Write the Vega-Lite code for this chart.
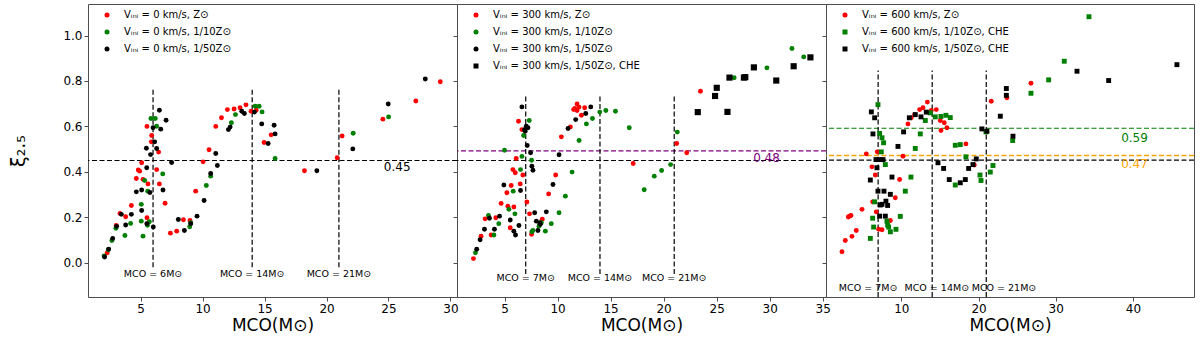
{
 "$schema": "https://vega.github.io/schema/vega-lite/v6.json",
 "padding": {"left": 9, "top": 3, "right": 3, "bottom": 2},
 "background": "white",
 "config": {
  "font": "DejaVu Sans",
  "view": {"stroke": "#4d4d4d", "strokeWidth": 1},
  "axis": {"grid": false, "domain": false, "ticks": true, "tickSize": 4, "tickColor": "#4d4d4d", "labelFontSize": 12, "labelColor": "#000", "labelPadding": 2, "titleFontSize": 17, "titleFontWeight": "normal", "titleColor": "#000", "labelFont": "DejaVu Sans", "titleFont": "DejaVu Sans"},
  "legend": {"orient": "none", "legendX": 14, "legendY": 6, "padding": 0, "labelFontSize": 10, "labelColor": "#000", "symbolSize": 25, "symbolStrokeWidth": 0, "rowPadding": 7, "labelOffset": 12, "title": null, "labelLimit": 400},
  "text": {"font": "DejaVu Sans"}
 },
 "datasets": {
  "one": [{}],
  "p1": [
   {"x":2.3,"y":0.044,"s":"a"},{"x":3.03,"y":0.164,"s":"a"},{"x":3.33,"y":0.217,"s":"a"},{"x":3.79,"y":0.202,"s":"a"},{"x":4.25,"y":0.252,"s":"a"},{"x":4.65,"y":0.371,"s":"a"},{"x":4.81,"y":0.408,"s":"a"},{"x":4.92,"y":0.403,"s":"a"},{"x":5.08,"y":0.44,"s":"a"},{"x":5.19,"y":0.367,"s":"a"},{"x":5.51,"y":0.6,"s":"a"},{"x":5.51,"y":0.198,"s":"a"},{"x":5.59,"y":0.347,"s":"a"},{"x":5.86,"y":0.532,"s":"a"},{"x":5.89,"y":0.56,"s":"a"},{"x":6.29,"y":0.41,"s":"a"},{"x":6.45,"y":0.487,"s":"a"},{"x":6.51,"y":0.347,"s":"a"},{"x":6.97,"y":0.262,"s":"a"},{"x":7.4,"y":0.13,"s":"a"},{"x":7.91,"y":0.139,"s":"a"},{"x":8.45,"y":0.189,"s":"a"},{"x":8.98,"y":0.186,"s":"a"},{"x":9.44,"y":0.315,"s":"a"},{"x":10.04,"y":0.444,"s":"a"},{"x":10.52,"y":0.497,"s":"a"},{"x":11.06,"y":0.6,"s":"a"},{"x":11.52,"y":0.638,"s":"a"},{"x":12.0,"y":0.674,"s":"a"},{"x":12.54,"y":0.677,"s":"a"},{"x":13.02,"y":0.682,"s":"a"},{"x":13.5,"y":0.695,"s":"a"},{"x":13.91,"y":0.667,"s":"a"},{"x":14.32,"y":0.671,"s":"a"},{"x":14.96,"y":0.529,"s":"a"},{"x":15.53,"y":0.563,"s":"a"},{"x":18.22,"y":0.405,"s":"a"},{"x":20.86,"y":0.462,"s":"a"},{"x":21.26,"y":0.558,"s":"a"},{"x":24.55,"y":0.632,"s":"a"},{"x":27.21,"y":0.712,"s":"a"},{"x":29.18,"y":0.797,"s":"a"},
   {"x":2.05,"y":0.03,"s":"b"},{"x":2.39,"y":0.057,"s":"b"},{"x":2.68,"y":0.098,"s":"b"},{"x":3.0,"y":0.152,"s":"b"},{"x":3.73,"y":0.12,"s":"b"},{"x":4.19,"y":0.173,"s":"b"},{"x":5.05,"y":0.257,"s":"b"},{"x":5.05,"y":0.183,"s":"b"},{"x":5.19,"y":0.117,"s":"b"},{"x":5.32,"y":0.362,"s":"b"},{"x":5.57,"y":0.315,"s":"b"},{"x":5.55,"y":0.165,"s":"b"},{"x":5.7,"y":0.18,"s":"b"},{"x":5.83,"y":0.635,"s":"b"},{"x":6.18,"y":0.635,"s":"b"},{"x":6.29,"y":0.601,"s":"b"},{"x":6.78,"y":0.391,"s":"b"},{"x":8.96,"y":0.158,"s":"b"},{"x":9.04,"y":0.176,"s":"b"},{"x":10.3,"y":0.34,"s":"b"},{"x":10.65,"y":0.381,"s":"b"},{"x":12.32,"y":0.616,"s":"b"},{"x":12.65,"y":0.652,"s":"b"},{"x":14.24,"y":0.689,"s":"b"},{"x":14.56,"y":0.689,"s":"b"},{"x":14.8,"y":0.664,"s":"b"},{"x":15.85,"y":0.459,"s":"b"},{"x":22.15,"y":0.57,"s":"b"},{"x":25.01,"y":0.642,"s":"b"},
   {"x":2.09,"y":0.025,"s":"c"},{"x":2.42,"y":0.06,"s":"c"},{"x":2.74,"y":0.107,"s":"c"},{"x":3.06,"y":0.16,"s":"c"},{"x":3.44,"y":0.213,"s":"c"},{"x":3.79,"y":0.166,"s":"c"},{"x":4.25,"y":0.213,"s":"c"},{"x":4.65,"y":0.312,"s":"c"},{"x":5.08,"y":0.32,"s":"c"},{"x":5.08,"y":0.23,"s":"c"},{"x":5.46,"y":0.504,"s":"c"},{"x":5.49,"y":0.418,"s":"c"},{"x":5.75,"y":0.309,"s":"c"},{"x":5.5,"y":0.172,"s":"c"},{"x":5.8,"y":0.476,"s":"c"},{"x":6.02,"y":0.157,"s":"c"},{"x":6.0,"y":0.594,"s":"c"},{"x":6.13,"y":0.532,"s":"c"},{"x":6.29,"y":0.503,"s":"c"},{"x":6.51,"y":0.671,"s":"c"},{"x":6.62,"y":0.588,"s":"c"},{"x":6.8,"y":0.32,"s":"c"},{"x":7.05,"y":0.627,"s":"c"},{"x":7.5,"y":0.441,"s":"c"},{"x":8.04,"y":0.19,"s":"c"},{"x":8.53,"y":0.142,"s":"c"},{"x":9.04,"y":0.172,"s":"c"},{"x":9.55,"y":0.205,"s":"c"},{"x":10.12,"y":0.274,"s":"c"},{"x":10.65,"y":0.393,"s":"c"},{"x":11.06,"y":0.481,"s":"c"},{"x":11.19,"y":0.428,"s":"c"},{"x":12.08,"y":0.586,"s":"c"},{"x":12.22,"y":0.597,"s":"c"},{"x":13.16,"y":0.667,"s":"c"},{"x":13.37,"y":0.657,"s":"c"},{"x":14.18,"y":0.663,"s":"c"},{"x":14.77,"y":0.611,"s":"c"},{"x":15.29,"y":0.525,"s":"c"},{"x":15.77,"y":0.605,"s":"c"},{"x":15.85,"y":0.567,"s":"c"},{"x":19.22,"y":0.405,"s":"c"},{"x":22.12,"y":0.501,"s":"c"},{"x":24.98,"y":0.699,"s":"c"},{"x":27.97,"y":0.809,"s":"c"}
  ],
  "p2": [
   {"x":2.07,"y":0.018,"s":"a"},{"x":2.79,"y":0.117,"s":"a"},{"x":3.17,"y":0.193,"s":"a"},{"x":3.74,"y":0.122,"s":"a"},{"x":4.18,"y":0.198,"s":"a"},{"x":4.68,"y":0.261,"s":"a"},{"x":5.22,"y":0.308,"s":"a"},{"x":5.32,"y":0.249,"s":"a"},{"x":5.54,"y":0.154,"s":"a"},{"x":5.63,"y":0.34,"s":"a"},{"x":5.79,"y":0.41,"s":"a"},{"x":6.01,"y":0.396,"s":"a"},{"x":5.88,"y":0.245,"s":"a"},{"x":6.1,"y":0.459,"s":"a"},{"x":6.32,"y":0.623,"s":"a"},{"x":6.48,"y":0.347,"s":"a"},{"x":6.64,"y":0.586,"s":"a"},{"x":6.73,"y":0.386,"s":"a"},{"x":7.11,"y":0.267,"s":"a"},{"x":7.36,"y":0.215,"s":"a"},{"x":7.55,"y":0.125,"s":"a"},{"x":8.56,"y":0.191,"s":"a"},{"x":9.16,"y":0.303,"s":"a"},{"x":9.82,"y":0.386,"s":"a"},{"x":10.36,"y":0.554,"s":"a"},{"x":11.21,"y":0.598,"s":"a"},{"x":11.52,"y":0.674,"s":"a"},{"x":11.62,"y":0.679,"s":"a"},{"x":11.84,"y":0.699,"s":"a"},{"x":12.03,"y":0.685,"s":"a"},{"x":11.84,"y":0.67,"s":"a"},{"x":12.25,"y":0.649,"s":"a"},{"x":12.56,"y":0.682,"s":"a"},{"x":17.13,"y":0.437,"s":"a"},{"x":21.23,"y":0.525,"s":"a"},{"x":22.18,"y":0.484,"s":"a"},{"x":23.47,"y":0.755,"s":"a"},
   {"x":2.26,"y":0.044,"s":"b"},{"x":3.49,"y":0.208,"s":"b"},{"x":4.0,"y":0.122,"s":"b"},{"x":4.46,"y":0.172,"s":"b"},{"x":5.0,"y":0.495,"s":"b"},{"x":5.41,"y":0.235,"s":"b"},{"x":5.82,"y":0.315,"s":"b"},{"x":5.98,"y":0.215,"s":"b"},{"x":6.51,"y":0.41,"s":"b"},{"x":6.64,"y":0.468,"s":"b"},{"x":6.8,"y":0.56,"s":"b"},{"x":7.33,"y":0.626,"s":"b"},{"x":7.55,"y":0.451,"s":"b"},{"x":7.58,"y":0.136,"s":"b"},{"x":7.68,"y":0.142,"s":"b"},{"x":8.25,"y":0.161,"s":"b"},{"x":8.47,"y":0.176,"s":"b"},{"x":8.85,"y":0.139,"s":"b"},{"x":9.41,"y":0.172,"s":"b"},{"x":10.14,"y":0.22,"s":"b"},{"x":10.74,"y":0.293,"s":"b"},{"x":11.37,"y":0.399,"s":"b"},{"x":12.03,"y":0.538,"s":"b"},{"x":12.72,"y":0.611,"s":"b"},{"x":13.29,"y":0.635,"s":"b"},{"x":13.98,"y":0.663,"s":"b"},{"x":14.55,"y":0.67,"s":"b"},{"x":15.46,"y":0.667,"s":"b"},{"x":16.76,"y":0.594,"s":"b"},{"x":18.17,"y":0.321,"s":"b"},{"x":19.12,"y":0.381,"s":"b"},{"x":19.81,"y":0.406,"s":"b"},{"x":20.66,"y":0.432,"s":"b"},{"x":21.29,"y":0.575,"s":"b"},{"x":26.65,"y":0.814,"s":"b"},{"x":29.74,"y":0.858,"s":"b"},{"x":32.1,"y":0.943,"s":"b"},{"x":33.21,"y":0.906,"s":"b"},
   {"x":2.38,"y":0.059,"s":"c"},{"x":2.7,"y":0.101,"s":"c"},{"x":3.11,"y":0.147,"s":"c"},{"x":3.58,"y":0.196,"s":"c"},{"x":4.05,"y":0.147,"s":"c"},{"x":4.53,"y":0.205,"s":"c"},{"x":4.94,"y":0.342,"s":"c"},{"x":5.54,"y":0.188,"s":"c"},{"x":5.88,"y":0.139,"s":"c"},{"x":6.04,"y":0.122,"s":"c"},{"x":6.36,"y":0.164,"s":"c"},{"x":6.51,"y":0.318,"s":"c"},{"x":6.64,"y":0.686,"s":"c"},{"x":6.89,"y":0.586,"s":"c"},{"x":7.05,"y":0.601,"s":"c"},{"x":7.21,"y":0.594,"s":"c"},{"x":6.95,"y":0.579,"s":"c"},{"x":7.14,"y":0.516,"s":"c"},{"x":7.46,"y":0.484,"s":"c"},{"x":7.58,"y":0.425,"s":"c"},{"x":7.68,"y":0.407,"s":"c"},{"x":7.84,"y":0.22,"s":"c"},{"x":8.0,"y":0.183,"s":"c"},{"x":8.15,"y":0.142,"s":"c"},{"x":8.31,"y":0.176,"s":"c"},{"x":8.37,"y":0.169,"s":"c"},{"x":8.94,"y":0.224,"s":"c"},{"x":9.57,"y":0.344,"s":"c"},{"x":10.14,"y":0.475,"s":"c"},{"x":10.99,"y":0.591,"s":"c"},{"x":11.71,"y":0.63,"s":"c"},{"x":12.66,"y":0.657,"s":"c"},{"x":13.13,"y":0.686,"s":"c"},
   {"x":23.22,"y":0.663,"s":"d"},{"x":24.85,"y":0.734,"s":"d"},{"x":25.01,"y":0.77,"s":"d"},{"x":26.02,"y":0.664,"s":"d"},{"x":26.21,"y":0.815,"s":"d"},{"x":27.57,"y":0.815,"s":"d"},{"x":27.7,"y":0.817,"s":"d"},{"x":28.51,"y":0.86,"s":"d"},{"x":30.62,"y":0.802,"s":"d"},{"x":32.26,"y":0.865,"s":"d"},{"x":33.84,"y":0.904,"s":"d"}
  ],
  "p3": [
   {"x":2.32,"y":0.048,"s":"a"},{"x":2.75,"y":0.098,"s":"a"},{"x":3.61,"y":0.116,"s":"a"},{"x":4.17,"y":0.142,"s":"a"},{"x":3.14,"y":0.201,"s":"a"},{"x":3.31,"y":0.205,"s":"a"},{"x":3.48,"y":0.208,"s":"a"},{"x":4.91,"y":0.235,"s":"a"},{"x":5.47,"y":0.479,"s":"a"},{"x":6.29,"y":0.268,"s":"a"},{"x":6.2,"y":0.422,"s":"a"},{"x":6.63,"y":0.386,"s":"a"},{"x":6.76,"y":0.224,"s":"a"},{"x":6.89,"y":0.488,"s":"a"},{"x":7.07,"y":0.147,"s":"a"},{"x":7.5,"y":0.145,"s":"a"},{"x":8.58,"y":0.186,"s":"a"},{"x":9.22,"y":0.286,"s":"a"},{"x":9.78,"y":0.366,"s":"a"},{"x":10.22,"y":0.469,"s":"a"},{"x":10.86,"y":0.611,"s":"a"},{"x":11.29,"y":0.638,"s":"a"},{"x":11.73,"y":0.652,"s":"a"},{"x":12.37,"y":0.674,"s":"a"},{"x":12.81,"y":0.682,"s":"a"},{"x":13.37,"y":0.707,"s":"a"},{"x":13.88,"y":0.67,"s":"a"},{"x":14.53,"y":0.674,"s":"a"},{"x":15.05,"y":0.626,"s":"a"},{"x":15.14,"y":0.582,"s":"a"},{"x":15.57,"y":0.616,"s":"a"},{"x":15.91,"y":0.594,"s":"a"},{"x":18.37,"y":0.523,"s":"a"},{"x":19.45,"y":0.43,"s":"a"},{"x":21.65,"y":0.711,"s":"a"},{"x":23.68,"y":0.726,"s":"a"},{"x":26.79,"y":0.79,"s":"a"},
   {"x":5.99,"y":0.107,"s":"b"},{"x":6.29,"y":0.196,"s":"b"},{"x":6.42,"y":0.157,"s":"b"},{"x":6.55,"y":0.268,"s":"b"},{"x":6.98,"y":0.696,"s":"b"},{"x":7.19,"y":0.569,"s":"b"},{"x":7.5,"y":0.55,"s":"b"},{"x":7.71,"y":0.528,"s":"b"},{"x":7.41,"y":0.488,"s":"b"},{"x":7.93,"y":0.432,"s":"b"},{"x":8.14,"y":0.183,"s":"b"},{"x":8.23,"y":0.166,"s":"b"},{"x":8.36,"y":0.157,"s":"b"},{"x":8.58,"y":0.136,"s":"b"},{"x":9.31,"y":0.147,"s":"b"},{"x":9.87,"y":0.204,"s":"b"},{"x":10.52,"y":0.315,"s":"b"},{"x":11.25,"y":0.377,"s":"b"},{"x":11.81,"y":0.503,"s":"b"},{"x":12.46,"y":0.567,"s":"b"},{"x":13.11,"y":0.626,"s":"b"},{"x":13.75,"y":0.66,"s":"b"},{"x":14.4,"y":0.642,"s":"b"},{"x":15.14,"y":0.644,"s":"b"},{"x":15.78,"y":0.649,"s":"b"},{"x":16.34,"y":0.639,"s":"b"},{"x":16.99,"y":0.342,"s":"b"},{"x":16.99,"y":0.517,"s":"b"},{"x":17.64,"y":0.52,"s":"b"},{"x":18.37,"y":0.466,"s":"b"},{"x":20.19,"y":0.386,"s":"b"},{"x":20.32,"y":0.362,"s":"b"},{"x":21.52,"y":0.399,"s":"b"},{"x":21.87,"y":0.428,"s":"b"},{"x":20.96,"y":0.576,"s":"b"},{"x":24.42,"y":0.538,"s":"b"},{"x":26.79,"y":0.746,"s":"b"},{"x":29.08,"y":0.805,"s":"b"},{"x":31.1,"y":0.887,"s":"b"},{"x":34.3,"y":1.083,"s":"b"},
   {"x":5.99,"y":0.364,"s":"c"},{"x":6.12,"y":0.664,"s":"c"},{"x":6.55,"y":0.638,"s":"c"},{"x":6.33,"y":0.567,"s":"c"},{"x":6.72,"y":0.454,"s":"c"},{"x":6.85,"y":0.418,"s":"c"},{"x":6.98,"y":0.315,"s":"c"},{"x":7.19,"y":0.454,"s":"c"},{"x":7.63,"y":0.454,"s":"c"},{"x":7.28,"y":0.254,"s":"c"},{"x":7.19,"y":0.205,"s":"c"},{"x":7.5,"y":0.257,"s":"c"},{"x":7.76,"y":0.315,"s":"c"},{"x":7.93,"y":0.205,"s":"c"},{"x":8.01,"y":0.271,"s":"c"},{"x":8.23,"y":0.252,"s":"c"},{"x":8.58,"y":0.301,"s":"c"},{"x":8.79,"y":0.377,"s":"c"},{"x":9.57,"y":0.512,"s":"c"},{"x":10.3,"y":0.576,"s":"c"},{"x":11.04,"y":0.638,"s":"c"},{"x":11.81,"y":0.652,"s":"c"},{"x":12.55,"y":0.642,"s":"c"},{"x":13.24,"y":0.663,"s":"c"},{"x":14.75,"y":0.44,"s":"c"},{"x":15.48,"y":0.415,"s":"c"},{"x":16.21,"y":0.366,"s":"c"},{"x":17.64,"y":0.352,"s":"c"},{"x":18.29,"y":0.366,"s":"c"},{"x":18.72,"y":0.415,"s":"c"},{"x":19.28,"y":0.432,"s":"c"},{"x":19.71,"y":0.457,"s":"c"},{"x":20.44,"y":0.589,"s":"c"},{"x":21.09,"y":0.579,"s":"c"},{"x":22.82,"y":0.645,"s":"c"},{"x":23.6,"y":0.767,"s":"c"},{"x":23.6,"y":0.737,"s":"c"},{"x":24.46,"y":0.557,"s":"c"},{"x":32.75,"y":0.843,"s":"c"},{"x":36.85,"y":0.802,"s":"c"},{"x":45.69,"y":0.872,"s":"c"}
  ]
 },
 "spacing": 0,
 "bounds": "flush",
 "resolve": {"scale": {"x": "independent", "y": "independent", "color": "independent", "shape": "independent"}, "legend": {"color": "independent", "shape": "independent"}},
 "hconcat": [
  {
   "width": 369, "height": 293,
   "layer": [
    {"data": {"name": "one"}, "mark": {"type": "rule", "color": "#000", "strokeDash": [5, 2.5], "strokeWidth": 1.2},
     "encoding": {"y": {"datum": 0.45, "type": "quantitative", "scale": {"domain": [-0.151, 1.139], "nice": false, "zero": false}}}},
    {"data": {"values": [{"v": 6, "t": "MCO = 6M⊙"}, {"v": 14, "t": "MCO = 14M⊙"}, {"v": 21, "t": "MCO = 21M⊙"}]},
     "layer": [
      {"mark": {"type": "rule", "color": "#000", "strokeDash": [5, 2.5], "strokeWidth": 1.2},
       "encoding": {"x": {"field": "v", "type": "quantitative"}, "y": {"datum": -0.02, "type": "quantitative"}, "y2": {"datum": 0.77}}},
      {"mark": {"type": "text", "fontSize": 9.5, "color": "#000", "align": "center", "baseline": "middle"},
       "encoding": {"x": {"field": "v", "type": "quantitative"}, "y": {"datum": -0.048, "type": "quantitative"}, "text": {"field": "t"}}}
     ]},
    {"data": {"name": "one"}, "mark": {"type": "text", "fontSize": 12, "color": "#000", "align": "center", "baseline": "middle"},
     "encoding": {"x": {"datum": 25.7, "type": "quantitative"}, "y": {"datum": 0.42, "type": "quantitative"}, "text": {"value": "0.45"}}},
    {"data": {"name": "p1"},
     "mark": {"type": "point", "filled": true, "size": 24, "opacity": 1},
     "encoding": {
      "x": {"field": "x", "type": "quantitative", "scale": {"domain": [0.75, 30.53], "nice": false, "zero": false}, "axis": {"values": [5, 10, 15, 20, 25, 30], "title": "MCO(M⊙)", "titlePadding": 3}},
      "y": {"field": "y", "type": "quantitative", "axis": {"values": [0, 0.2, 0.4, 0.6, 0.8, 1.0], "format": ".1f", "title": "ξ₂.₅", "titlePadding": 34, "titleFontSize": 19}},
      "color": {"field": "s", "type": "nominal", "scale": {"domain": ["a", "b", "c"], "range": ["#ff0000", "#008000", "#000000"]},
       "legend": {"labelExpr": "datum.label == 'a' ? 'Vᵢₙᵢ = 0 km/s, Z⊙' : datum.label == 'b' ? 'Vᵢₙᵢ = 0 km/s, 1/10Z⊙' : 'Vᵢₙᵢ = 0 km/s, 1/50Z⊙'"}},
      "shape": {"field": "s", "type": "nominal", "scale": {"domain": ["a", "b", "c"], "range": ["circle", "circle", "circle"]},
       "legend": {"labelExpr": "datum.label == 'a' ? 'Vᵢₙᵢ = 0 km/s, Z⊙' : datum.label == 'b' ? 'Vᵢₙᵢ = 0 km/s, 1/10Z⊙' : 'Vᵢₙᵢ = 0 km/s, 1/50Z⊙'"}}
     }}
   ]
  },
  {
   "width": 369, "height": 293,
   "layer": [
    {"data": {"name": "one"}, "mark": {"type": "rule", "color": "#000", "strokeDash": [5, 2.5], "strokeWidth": 1.2},
     "encoding": {"y": {"datum": 0.45, "type": "quantitative", "scale": {"domain": [-0.151, 1.139], "nice": false, "zero": false}}}},
    {"data": {"name": "one"}, "mark": {"type": "rule", "color": "#800080", "strokeDash": [5, 2.5], "strokeWidth": 1.2},
     "encoding": {"y": {"datum": 0.4925, "type": "quantitative"}}},
    {"data": {"values": [{"v": 7, "t": "MCO = 7M⊙"}, {"v": 14, "t": "MCO = 14M⊙"}, {"v": 21, "t": "MCO = 21M⊙"}]},
     "layer": [
      {"mark": {"type": "rule", "color": "#000", "strokeDash": [5, 2.5], "strokeWidth": 1.2},
       "encoding": {"x": {"field": "v", "type": "quantitative"}, "y": {"datum": -0.05, "type": "quantitative"}, "y2": {"datum": 0.74}}},
      {"mark": {"type": "text", "fontSize": 9.5, "color": "#000", "align": "center", "baseline": "middle"},
       "encoding": {"x": {"field": "v", "type": "quantitative"}, "y": {"datum": -0.068, "type": "quantitative"}, "text": {"field": "t"}}}
     ]},
    {"data": {"name": "one"}, "mark": {"type": "text", "fontSize": 12, "color": "#800080", "align": "center", "baseline": "middle"},
     "encoding": {"x": {"datum": 29.7, "type": "quantitative"}, "y": {"datum": 0.459, "type": "quantitative"}, "text": {"value": "0.48"}}},
    {"data": {"name": "p2"},
     "transform": [{"filter": "datum.s != 'd'"}],
     "mark": {"type": "point", "filled": true, "size": 24, "opacity": 1},
     "encoding": {
      "x": {"field": "x", "type": "quantitative", "scale": {"domain": [0.52, 35.31], "nice": false, "zero": false}, "axis": {"values": [5, 10, 15, 20, 25, 30, 35], "title": "MCO(M⊙)", "titlePadding": 3}},
      "y": {"field": "y", "type": "quantitative", "axis": {"values": [0, 0.2, 0.4, 0.6, 0.8, 1.0], "labels": false, "title": null}},
      "color": {"field": "s", "type": "nominal", "scale": {"domain": ["a", "b", "c", "d"], "range": ["#ff0000", "#008000", "#000000", "#000000"]},
       "legend": {"labelExpr": "datum.label == 'a' ? 'Vᵢₙᵢ = 300 km/s, Z⊙' : datum.label == 'b' ? 'Vᵢₙᵢ = 300 km/s, 1/10Z⊙' : datum.label == 'c' ? 'Vᵢₙᵢ = 300 km/s, 1/50Z⊙' : 'Vᵢₙᵢ = 300 km/s, 1/50Z⊙, CHE'"}},
      "shape": {"field": "s", "type": "nominal", "scale": {"domain": ["a", "b", "c", "d"], "range": ["circle", "circle", "circle", "square"]},
       "legend": {"labelExpr": "datum.label == 'a' ? 'Vᵢₙᵢ = 300 km/s, Z⊙' : datum.label == 'b' ? 'Vᵢₙᵢ = 300 km/s, 1/10Z⊙' : datum.label == 'c' ? 'Vᵢₙᵢ = 300 km/s, 1/50Z⊙' : 'Vᵢₙᵢ = 300 km/s, 1/50Z⊙, CHE'"}}
     }},
    {"data": {"name": "p2"},
     "transform": [{"filter": "datum.s == 'd'"}],
     "mark": {"type": "point", "filled": true, "size": 38, "opacity": 1},
     "encoding": {
      "x": {"field": "x", "type": "quantitative"},
      "y": {"field": "y", "type": "quantitative"},
      "color": {"field": "s", "type": "nominal"},
      "shape": {"field": "s", "type": "nominal"}
     }}
   ]
  },
  {
   "width": 368, "height": 293,
   "layer": [
    {"data": {"name": "one"}, "mark": {"type": "rule", "color": "#008000", "strokeDash": [5, 2.5], "strokeWidth": 1.2},
     "encoding": {"y": {"datum": 0.592, "type": "quantitative", "scale": {"domain": [-0.151, 1.139], "nice": false, "zero": false}}}},
    {"data": {"name": "one"}, "mark": {"type": "rule", "color": "#ffa500", "strokeDash": [5, 2.5], "strokeWidth": 1.4},
     "encoding": {"y": {"datum": 0.472, "type": "quantitative"}}},
    {"data": {"name": "one"}, "mark": {"type": "rule", "color": "#000", "strokeDash": [5, 2.5], "strokeWidth": 1.2},
     "encoding": {"y": {"datum": 0.452, "type": "quantitative"}}},
    {"data": {"values": [{"v": 7}, {"v": 14}, {"v": 21}]},
     "mark": {"type": "rule", "color": "#000", "strokeDash": [5, 2.5], "strokeWidth": 1.2},
     "encoding": {"x": {"field": "v", "type": "quantitative"}, "y": {"datum": -0.151, "type": "quantitative"}, "y2": {"datum": 0.846}}},
    {"data": {"values": [{"v": 5.7, "t": "MCO = 7M⊙"}, {"v": 14.6, "t": "MCO = 14M⊙"}, {"v": 23.3, "t": "MCO = 21M⊙"}]},
     "mark": {"type": "text", "fontSize": 9.5, "color": "#000", "align": "center", "baseline": "middle"},
     "encoding": {"x": {"field": "v", "type": "quantitative"}, "y": {"datum": -0.11, "type": "quantitative"}, "text": {"field": "t"}}},
    {"data": {"name": "one"}, "mark": {"type": "text", "fontSize": 12, "color": "#008000", "align": "center", "baseline": "middle"},
     "encoding": {"x": {"datum": 40.2, "type": "quantitative"}, "y": {"datum": 0.551, "type": "quantitative"}, "text": {"value": "0.59"}}},
    {"data": {"name": "one"}, "mark": {"type": "text", "fontSize": 12, "color": "#ffa500", "align": "center", "baseline": "middle"},
     "encoding": {"x": {"datum": 40.2, "type": "quantitative"}, "y": {"datum": 0.433, "type": "quantitative"}, "text": {"value": "0.47"}}},
    {"data": {"name": "p3"},
     "mark": {"type": "point", "filled": true, "size": 24, "opacity": 1},
     "encoding": {
      "x": {"field": "x", "type": "quantitative", "scale": {"domain": [0.25, 47.9], "nice": false, "zero": false}, "axis": {"values": [10, 20, 30, 40], "title": "MCO(M⊙)", "titlePadding": 3}},
      "y": {"field": "y", "type": "quantitative", "axis": {"values": [0, 0.2, 0.4, 0.6, 0.8, 1.0], "labels": false, "title": null}},
      "color": {"field": "s", "type": "nominal", "scale": {"domain": ["a", "b", "c"], "range": ["#ff0000", "#008000", "#000000"]},
       "legend": {"labelExpr": "datum.label == 'a' ? 'Vᵢₙᵢ = 600 km/s, Z⊙' : datum.label == 'b' ? 'Vᵢₙᵢ = 600 km/s, 1/10Z⊙, CHE' : 'Vᵢₙᵢ = 600 km/s, 1/50Z⊙, CHE'"}},
      "shape": {"field": "s", "type": "nominal", "scale": {"domain": ["a", "b", "c"], "range": ["circle", "square", "square"]},
       "legend": {"labelExpr": "datum.label == 'a' ? 'Vᵢₙᵢ = 600 km/s, Z⊙' : datum.label == 'b' ? 'Vᵢₙᵢ = 600 km/s, 1/10Z⊙, CHE' : 'Vᵢₙᵢ = 600 km/s, 1/50Z⊙, CHE'"}}
     }}
   ]
  }
 ]
}
